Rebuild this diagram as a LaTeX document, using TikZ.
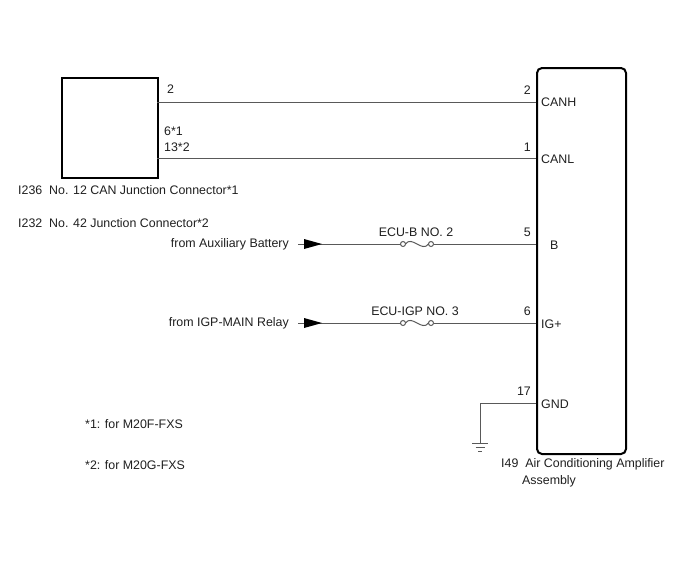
\documentclass[tikz,border=0pt]{standalone}
\usepackage{fontspec}
\setmainfont{Liberation Sans}
\usetikzlibrary{calc}
\begin{document}
\begin{tikzpicture}[x=1pt,y=-1pt,
  txt/.style={font=\fontsize{12.4}{14}\selectfont, inner sep=0pt, text=black!88},
  wire/.style={draw=black!65, line width=1pt},
  boxline/.style={draw=black, line width=2pt},
  tri/.style={fill=black, draw=none}]
\useasboundingbox (0,0) rectangle (688,560);
% boxes
\node[boxline, minimum width=96pt, minimum height=100pt, inner sep=0pt, anchor=north west] (jc) at (61,77) {};
\node[boxline, rounded corners=5pt, minimum width=89pt, minimum height=386pt, inner sep=0pt, anchor=north west] (amp) at (536,67) {};
% coordinates
\coordinate (hL) at (157,102); \coordinate (hR) at (536,102);
\coordinate (lL) at (157,158); \coordinate (lR) at (536,158);
\coordinate (bS) at (298,244); \coordinate (bR) at (536,244);
\coordinate (iS) at (298,323); \coordinate (iR) at (536,323);
\coordinate (gR) at (536,403); \coordinate (gC) at (480,403); \coordinate (gB) at (480,443);
% CAN wires
\draw[wire] (hL) -- (hR);
\draw[wire] (lL) -- (lR);
% B line with fuse
\coordinate (bf1) at (403,244); \coordinate (bf2) at (431,244);
\draw[wire] (bS) -- ($(bf1)+(-2.5,0)$);
\draw[wire] (bf1) circle (2.5);
\draw[wire] ($(bf1)+(2.5,0)$) .. controls (412,235) and (422,253) .. ($(bf2)+(-2.5,0)$);
\draw[wire] (bf2) circle (2.5);
\draw[wire] ($(bf2)+(2.5,0)$) -- (bR);
\fill[tri] (304,239) -- (322,244) -- (304,249) -- cycle;
% IG line with fuse
\coordinate (if1) at (403,323); \coordinate (if2) at (431,323);
\draw[wire] (iS) -- ($(if1)+(-2.5,0)$);
\draw[wire] (if1) circle (2.5);
\draw[wire] ($(if1)+(2.5,0)$) .. controls (412,314) and (422,332) .. ($(if2)+(-2.5,0)$);
\draw[wire] (if2) circle (2.5);
\draw[wire] ($(if2)+(2.5,0)$) -- (iR);
\fill[tri] (304,318) -- (322,323) -- (304,328) -- cycle;
% ground
\draw[wire] (gR) -- (gC) -- (gB);
\draw[wire] (472,443) -- (488,443);
\draw[wire] (475.5,447) -- (484.5,447);
\draw[wire] (478,451) -- (482,451);
% texts left
\node[txt, anchor=west] (t2) at (167,89) {2};
\node[txt, anchor=west] (t61) at (164,131) {6*1};
\node[txt, anchor=west] (t132) at (164,147) {13*2};
\node[txt, anchor=west] (c1) at (18,190) {I236\ \ No. 12 CAN Junction Connector*1};
\node[txt, anchor=west] (c2) at (18,223) {I232\ \ No. 42 Junction Connector*2};
\node[txt, anchor=east] (fab) at (289,244) {from Auxiliary Battery};
\node[txt, anchor=east] (fig) at (289,323) {from IGP-MAIN Relay};
\node[txt, anchor=west] (n1) at (85,424) {*1: for M20F-FXS};
\node[txt, anchor=west] (n2) at (85,465) {*2: for M20G-FXS};
% fuse labels
\node[txt] (fb) at (416,232) {ECU-B NO. 2};
\node[txt] (fi) at (415,311) {ECU-IGP NO. 3};
% pin numbers
\node[txt, anchor=east] (p2) at (531,90) {2};
\node[txt, anchor=east] (p1) at (531,147) {1};
\node[txt, anchor=east] (p5) at (531,232) {5};
\node[txt, anchor=east] (p6) at (531,311) {6};
\node[txt, anchor=east] (p17) at (531,391) {17};
% pin names
\node[txt, anchor=west] (canh) at (541,102) {CANH};
\node[txt, anchor=west] (canl) at (541,159) {CANL};
\node[txt, anchor=west] (pb) at (550,245) {B};
\node[txt, anchor=west] (pig) at (541,324) {IG+};
\node[txt, anchor=west] (gnd) at (541,404) {GND};
% amp label
\node[txt, anchor=west] (al1) at (501,464) {I49\ \ Air Conditioning Amplifier};
\node[txt, anchor=west] (al2) at (522,481) {Assembly};
\end{tikzpicture}
\end{document}
